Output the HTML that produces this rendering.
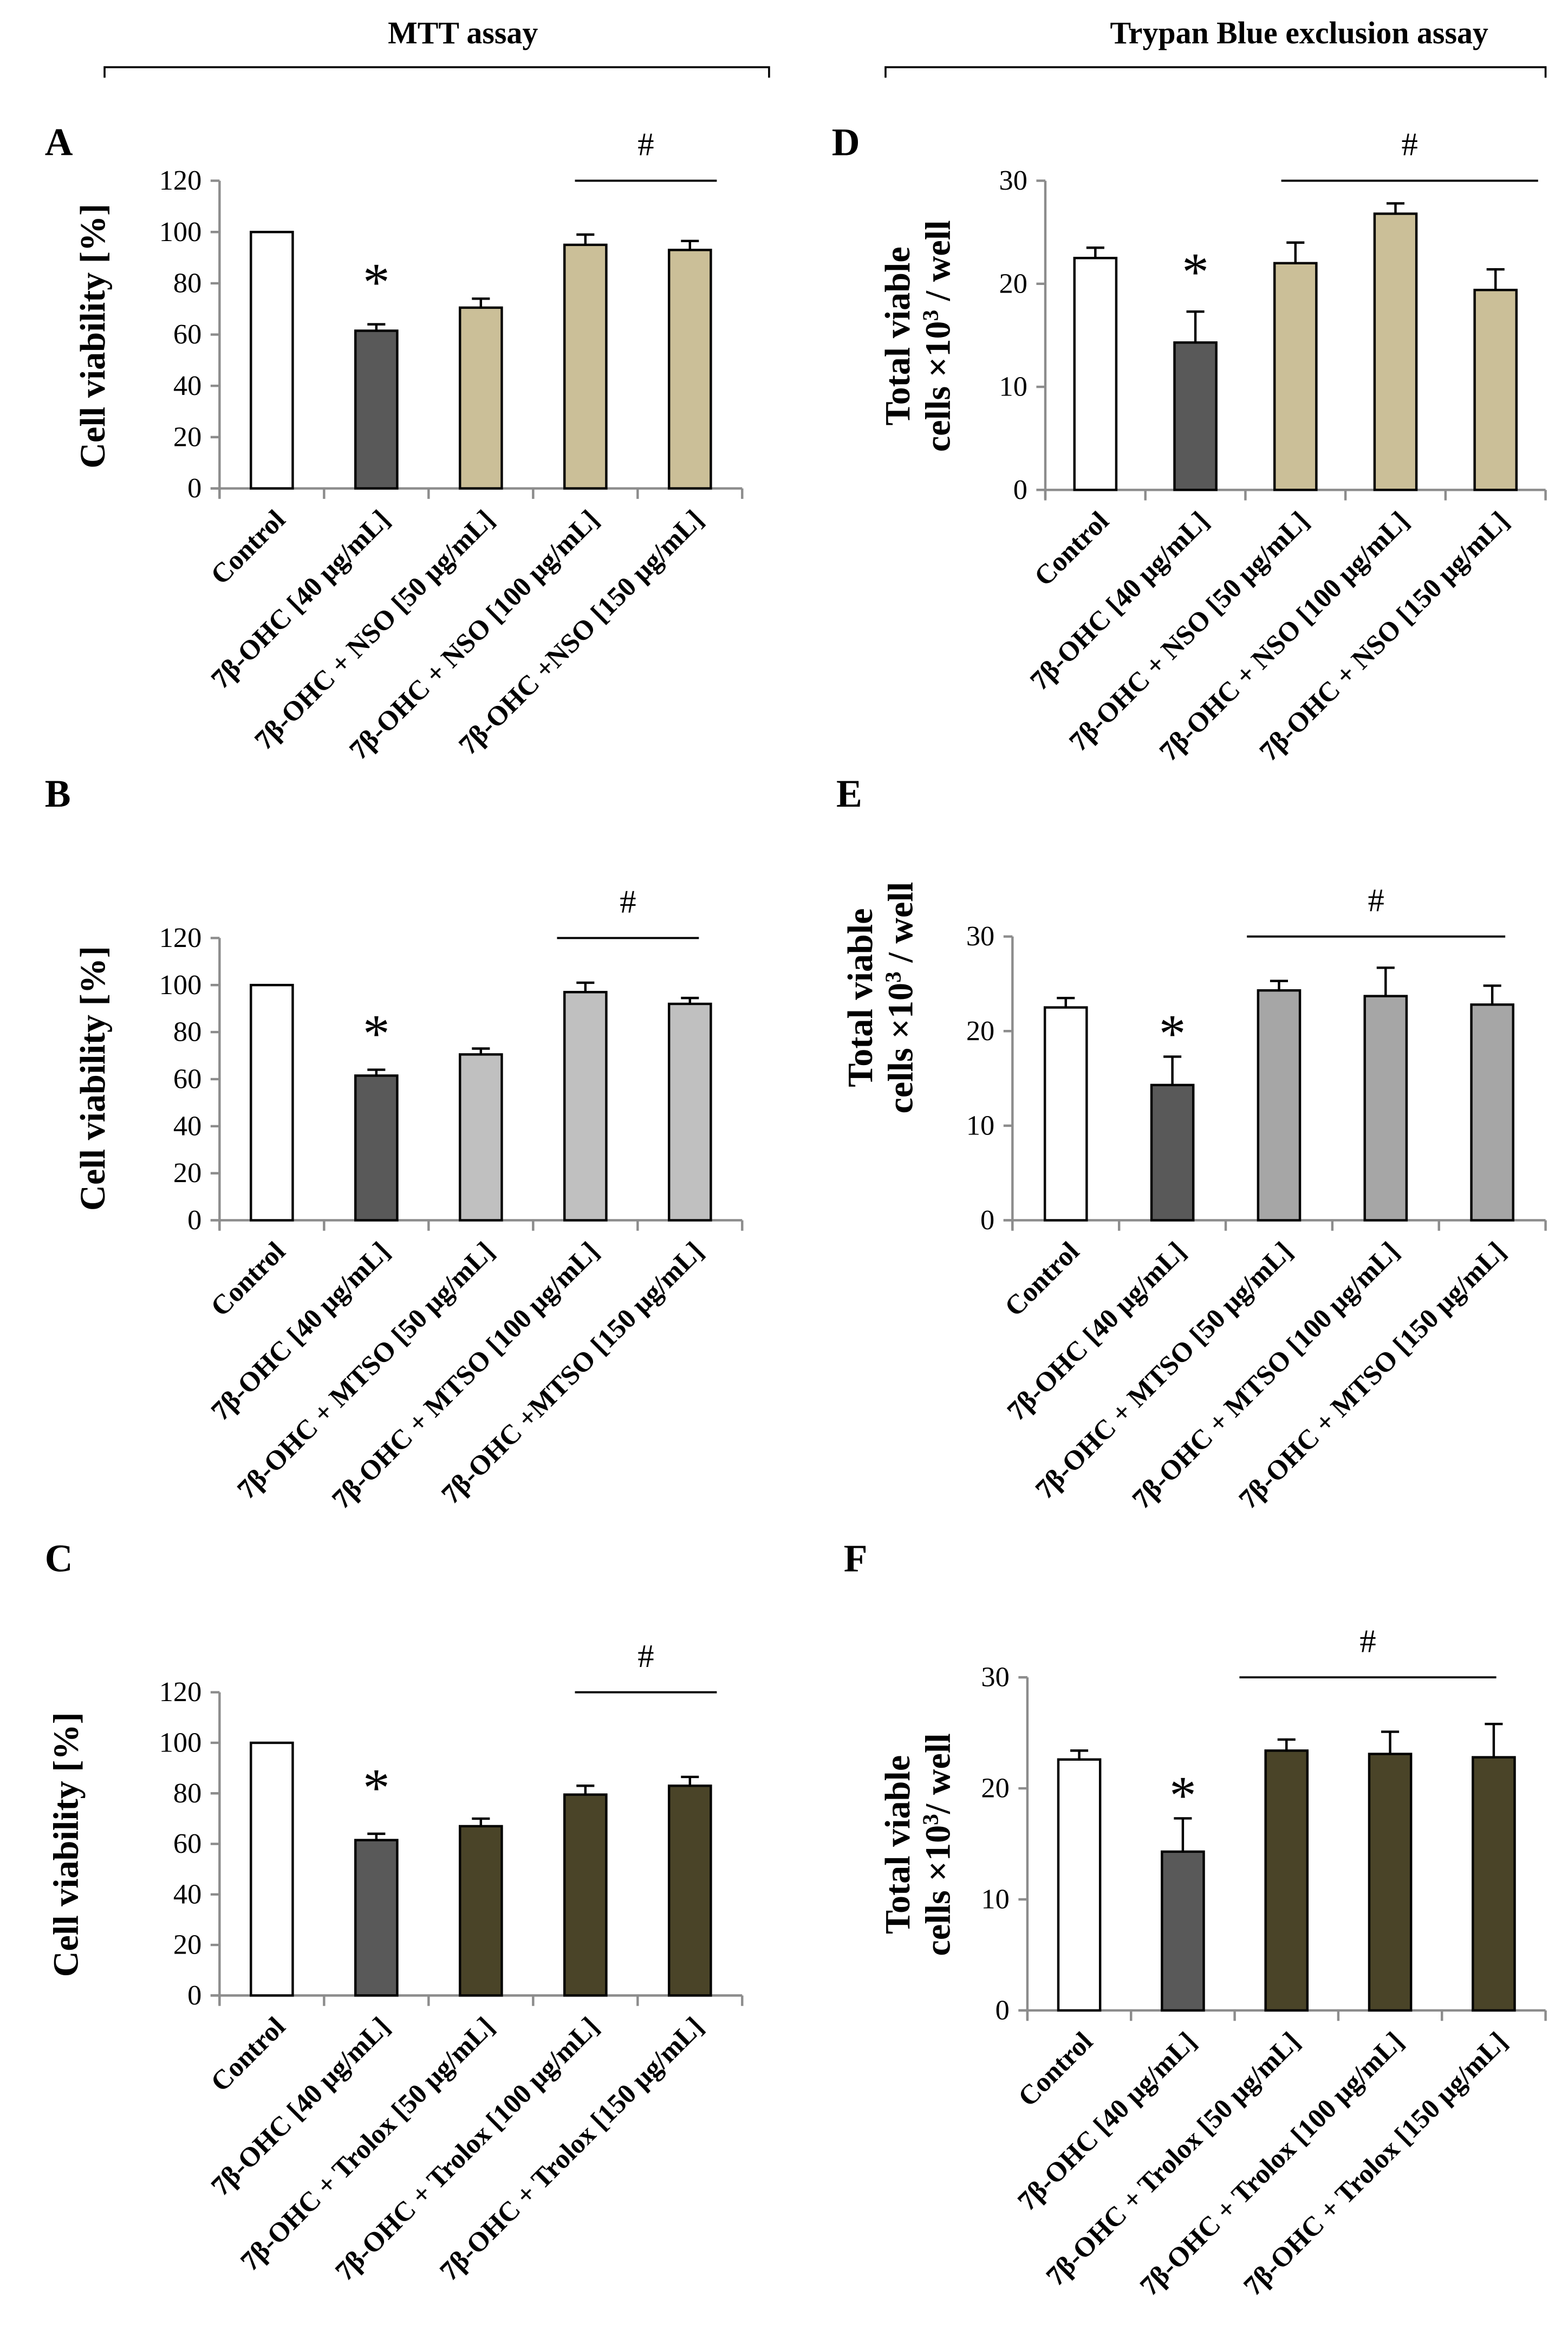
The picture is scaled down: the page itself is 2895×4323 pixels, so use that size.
<!DOCTYPE html>
<html><head><meta charset="utf-8"><style>
html,body{margin:0;padding:0;background:#fff}
svg{display:block}
text{font-family:"Liberation Serif",serif;fill:#000}
</style></head><body>
<svg id="fig" width="2895" height="4323" viewBox="0 0 1050 1568" xmlns="http://www.w3.org/2000/svg">
<g>
<text x="310" y="29" font-size="21" font-weight="bold" text-anchor="middle">MTT assay</text>
<path d="M70 52 V45 H515 V52" fill="none" stroke="#000" stroke-width="1.3"/>
</g>
<g>
<text x="870" y="29" font-size="21" font-weight="bold" text-anchor="middle">Trypan Blue exclusion assay</text>
<path d="M593 52 V45 H1035 V52" fill="none" stroke="#000" stroke-width="1.3"/>
</g>
</svg>
<script>
// Panel A
const catsA = ["Control","7β-OHC [40 μg/mL]","7β-OHC + NSO [50 μg/mL]","7β-OHC + NSO [100 μg/mL]","7β-OHC +NSO  [150 μg/mL]"];
const valsA = [100, 61.5, 70.5, 95, 93];
const errsA = [0, 2.5, 3.5, 4, 3.5];
const ticksA = [0,20,40,60,80,100,120];
// Panel B
const catsB = ["Control","7β-OHC [40 μg/mL]","7β-OHC + MTSO [50 μg/mL]","7β-OHC + MTSO [100 μg/mL]","7β-OHC +MTSO  [150 μg/mL]"];
const valsB = [100, 61.5, 70.5, 97, 92];
const errsB = [0, 2.5, 2.5, 4, 2.5];
const ticksB = [0,20,40,60,80,100,120];
// Panel C
const catsC = ["Control","7β-OHC [40 μg/mL]","7β-OHC + Trolox [50 μg/mL]","7β-OHC + Trolox [100 μg/mL]","7β-OHC + Trolox [150 μg/mL]"];
const valsC = [100, 61.5, 67, 79.5, 83];
const errsC = [0, 2.5, 3, 3.5, 3.5];
const ticksC = [0,20,40,60,80,100,120];
// Panel D
const catsD = ["Control","7β-OHC [40 μg/mL]","7β-OHC + NSO [50 μg/mL]","7β-OHC + NSO [100 μg/mL]","7β-OHC + NSO [150 μg/mL]"];
const valsD = [22.5, 14.3, 22, 26.8, 19.4];
const errsD = [1, 3, 2, 1, 2];
const ticksD = [0,10,20,30];
// Panel E
const catsE = ["Control","7β-OHC [40 μg/mL]","7β-OHC + MTSO [50 μg/mL]","7β-OHC + MTSO [100 μg/mL]","7β-OHC  + MTSO [150 μg/mL]"];
const valsE = [22.5, 14.3, 24.3, 23.7, 22.8];
const errsE = [1, 3, 1, 3, 2];
const ticksE = [0,10,20,30];
// Panel F
const catsF = ["Control","7β-OHC [40 μg/mL]","7β-OHC + Trolox [50 μg/mL]","7β-OHC + Trolox [100 μg/mL]","7β-OHC + Trolox [150 μg/mL]"];
const valsF = [22.6, 14.3, 23.4, 23.1, 22.8];
const errsF = [0.8, 3, 1, 2, 3];
const ticksF = [0,10,20,30];

const NS="http://www.w3.org/2000/svg";
const svg=document.getElementById('fig');
function mk(tag,attrs,parent,txt){const e=document.createElementNS(NS,tag);for(const k in attrs)e.setAttribute(k,attrs[k]);if(txt!==undefined)e.textContent=txt;parent.appendChild(e);return e;}

function panel(cfg,cats,vals,errs,ticks){
  const g=mk('g',{},svg);
  
  
  const ymax=ticks[ticks.length-1];
  const y=v=>cfg.y0-(v/ymax)*(cfg.y0-cfg.ytop);
  const cw=(cfg.x1-cfg.x0)/cats.length;
  const cx=i=>cfg.x0+cw*(i+0.5)+(cfg.shift||0);
  const lab=mk('text',{x:cfg.lx,y:cfg.ly,'font-size':26,'font-weight':'bold'},g,cfg.id.toUpperCase());
  
  
  const tt=mk('text',{transform:`translate(${cfg.tx},${cfg.ty}) rotate(-90)`,'font-size':24,'font-weight':'bold','text-anchor':'middle'},g);
  
  
  cfg.title.forEach((t,k)=>{const ts=mk('tspan',{x:0,dy:k===0?0:27},tt);ts.innerHTML=t;});
  const ya=mk('line',{x1:cfg.x0,y1:cfg.ytop,x2:cfg.x0,y2:cfg.y0+6,stroke:'#8c8c8c','stroke-width':1.6},g);
  
  
  ticks.forEach(t=>{
    const tl=mk('line',{x1:cfg.x0-6,y1:y(t),x2:cfg.x0,y2:y(t),stroke:'#8c8c8c','stroke-width':1.6},g);
    
    
    const tx=mk('text',{x:cfg.x0-12,y:y(t)+6,'font-size':19,'text-anchor':'end',fill:'#222'},g,String(t));
    
    
  });
  const xa=mk('line',{x1:cfg.x0-6,y1:cfg.y0,x2:cfg.x1,y2:cfg.y0,stroke:'#8c8c8c','stroke-width':1.6},g);
  
  
  for(let i=0;i<=cats.length;i++){
    const xt=mk('line',{x1:cfg.x0+cw*i,y1:cfg.y0,x2:cfg.x0+cw*i,y2:cfg.y0+7,stroke:'#8c8c8c','stroke-width':1.6},g);
    
    
  }
  vals.forEach((v,i)=>{
    const fill=i===0?'#fff':(i===1?'#595959':cfg.fill);
    const b=mk('rect',{x:cx(i)-14,y:y(v),width:28,height:cfg.y0-y(v),fill:fill,stroke:'#000','stroke-width':1.6},g);
    
    
    if(errs[i]>0){
      const e=mk('path',{d:`M${cx(i)} ${y(v)} V${y(v+errs[i])} M${cx(i)-6} ${y(v+errs[i])} H${cx(i)+6}`,stroke:'#000','stroke-width':1.6,fill:'none'},g);
      
      
    }
    const xl=mk('text',{transform:`translate(${cx(i)+10},${cfg.y0+22}) rotate(-45)`,'font-size':18.5,'font-weight':'bold','text-anchor':'end',fill:'#111'},g,cats[i]);
    
    
  });
  const st=mk('text',{x:cx(1),y:cfg.sy+4,'font-size':36,'text-anchor':'middle'},g,'*');
  
  
  const hl=mk('line',{x1:cfg.h1,y1:cfg.ytop,x2:cfg.h2,y2:cfg.ytop,stroke:'#000','stroke-width':1.4},g);
  
  
  const hs=mk('text',{x:(cfg.h1+cfg.h2)/2,y:cfg.ytop-17,'font-size':22,'text-anchor':'middle'},g,'#');
  
  
}
const T1=['Cell viability [%]'];
panel({id:'a',x0:147,x1:497,y0:327,ytop:121,lx:30,ly:104,tx:70,ty:225,title:T1,fill:'#cbbf98',sy:197,h1:385,h2:480},catsA,valsA,errsA,ticksA);
panel({id:'b',x0:147,x1:497,y0:817,ytop:628,lx:30,ly:540,tx:70,ty:722,title:T1,fill:'#c0c0c0',sy:700,h1:373,h2:468},catsB,valsB,errsB,ticksB);
panel({id:'c',x0:147,x1:497,y0:1336,ytop:1133,lx:30,ly:1052,tx:52,ty:1235,title:T1,fill:'#4a4428',sy:1205,h1:385,h2:480},catsC,valsC,errsC,ticksC);
panel({id:'d',x0:700,x1:1035,y0:328,ytop:121,lx:557,ly:104,tx:609,ty:225,title:['Total viable','cells ×10<tspan dy="-8" font-size="15">3</tspan><tspan dy="8"> / well</tspan>'],fill:'#cbbf98',sy:190,h1:858,h2:1030},catsD,valsD,errsD,ticksD);
panel({id:'e',x0:678,x1:1035,y0:817,ytop:627,lx:560,ly:540,tx:584,ty:668,title:['Total viable','cells ×10<tspan dy="-8" font-size="15">3</tspan><tspan dy="8"> / well</tspan>'],fill:'#a6a6a6',sy:700,h1:835,h2:1008},catsE,valsE,errsE,ticksE);
panel({id:'f',x0:688,x1:1035,y0:1346,ytop:1123,lx:565,ly:1052,tx:609,ty:1235,title:['Total viable','cells ×10<tspan dy="-8" font-size="15">3</tspan><tspan dy="8">/ well</tspan>'],fill:'#4a4428',sy:1210,h1:830,h2:1002},catsF,valsF,errsF,ticksF);
</script>
</body></html>
